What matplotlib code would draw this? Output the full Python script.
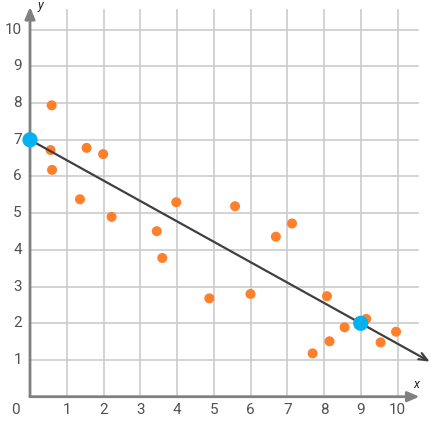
import matplotlib
matplotlib.use("Agg")
import matplotlib.pyplot as plt

# Data
x_points = [0.59, 0.56, 0.60, 1.54, 1.99, 1.36, 2.22, 3.98, 3.45, 3.60, 4.88,
            5.58, 6.00, 6.69, 7.13, 8.08, 7.69, 8.15, 8.56, 9.15, 9.54, 9.96]
y_points = [7.94, 6.72, 6.18, 6.78, 6.61, 5.38, 4.90, 5.30, 4.51, 3.78, 2.68,
            5.19, 2.80, 4.36, 4.72, 2.74, 1.18, 1.51, 1.89, 2.12, 1.48, 1.77]
fit_x = [0, 9]
fit_y = [7, 2]
x_ticks = list(range(1, 11))
y_ticks = list(range(1, 11))

plt.rcParams['font.family'] = ['Roboto', 'DejaVu Sans']

W, H = 437, 426
fig = plt.figure(figsize=(W / 100, H / 100), dpi=100)
ax = fig.add_axes([0, 0, 1, 1])
# pixel mapping: x_px = 30 + 36.75*x ; y_px(from top) = 396.7 - 36.7*y
x0, sx = 30.0, 36.75
y0, sy = 396.7, 36.7
ax.set_xlim(-x0 / sx, (W - x0) / sx)
ax.set_ylim((y0 - H) / sy, y0 / sy)
ax.axis('off')

grid_c = '#cccccc'
axis_c = '#808080'
text_c = '#505050'
ext = 10.55

for xv in x_ticks:
    ax.plot([xv, xv], [0, ext], color=grid_c, lw=1.2, zorder=1)
for yv in y_ticks:
    ax.plot([0, ext], [yv, yv], color=grid_c, lw=1.2, zorder=1)

# axes with arrows
ax.annotate('', xy=(10.6, 0), xytext=(0, 0),
            arrowprops=dict(arrowstyle='-|>,head_length=0.7,head_width=0.3',
                            color=axis_c, lw=2, shrinkA=0, shrinkB=0), zorder=2)
ax.annotate('', xy=(0, 10.62), xytext=(0, 0),
            arrowprops=dict(arrowstyle='-|>,head_length=0.7,head_width=0.3',
                            color=axis_c, lw=2, shrinkA=0, shrinkB=0), zorder=2)

# tick labels
for xv in x_ticks:
    ax.text(xv, -0.37, str(xv), ha='center', va='center', fontsize=11, color=text_c)
for yv in y_ticks:
    ax.text(-0.22, yv, str(yv), ha='right', va='center', fontsize=11, color=text_c)
ax.text(-0.40, -0.37, '0', ha='center', va='center', fontsize=11, color=text_c)

ax.text(10.5, 0.33, 'x', ha='center', va='center', fontsize=9, style='italic', color='#222222')
ax.text(0.27, 10.66, 'y', ha='center', va='center', fontsize=9, style='italic', color='#222222')

# scatter points
ax.scatter(x_points, y_points, s=52, color='#FF7F2A', edgecolors='none', zorder=3)

# fitted line extended with arrow
slope = (fit_y[1] - fit_y[0]) / (fit_x[1] - fit_x[0])
x_end = 10.88
y_end = fit_y[0] + slope * (x_end - fit_x[0])
ax.annotate('', xy=(x_end, y_end), xytext=(fit_x[0], fit_y[0]),
            arrowprops=dict(arrowstyle='->,head_length=0.6,head_width=0.25',
                            color='#404040', lw=1.6, shrinkA=0, shrinkB=0), zorder=4)

ax.scatter(fit_x, fit_y, s=120, color='#00B2F0', edgecolors='none', zorder=5)

fig.savefig('out.png', dpi=100)
